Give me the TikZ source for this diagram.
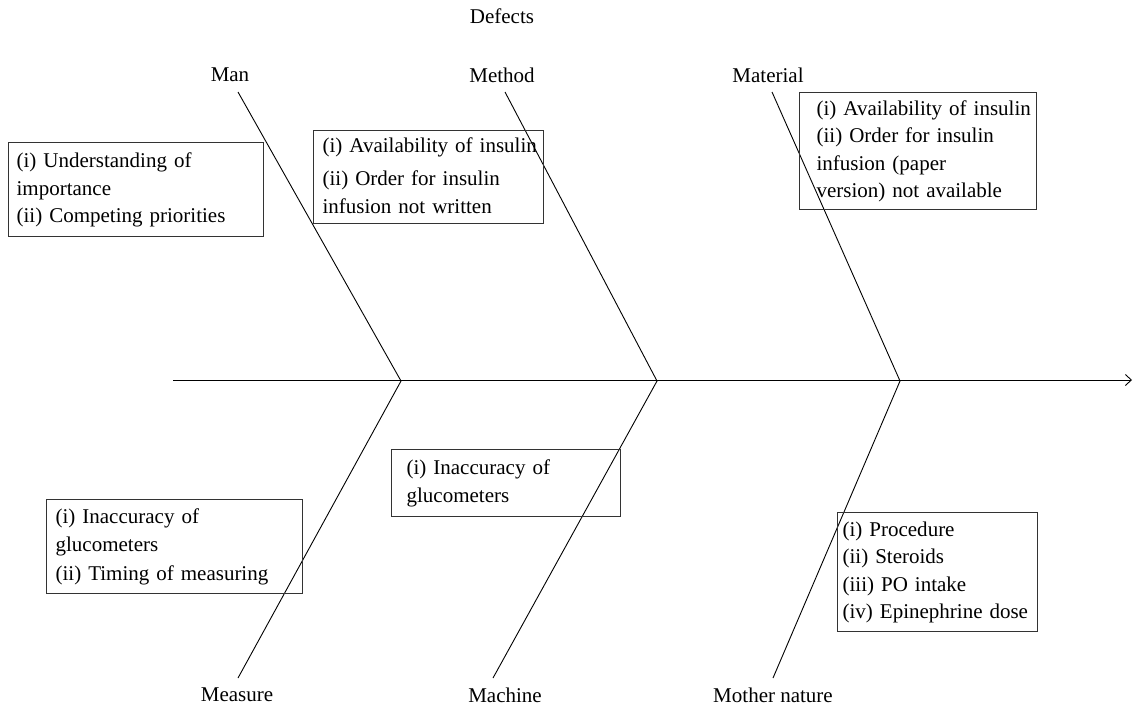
\documentclass[tikz,border=0pt]{standalone}
\usepackage{fontspec}
\setmainfont{Liberation Serif}
\usetikzlibrary{arrows.meta}

\begin{document}
\begin{tikzpicture}[x=0.5pt, y=-0.5pt,
    every node/.style={font=\fontsize{10.5}{13.75}\selectfont},
    box/.style={draw=black!80, line width=0.6pt, anchor=north west, align=left, inner ysep=1pt,
        execute at begin node=\strut, execute at end node=\strut},
    bone/.style={line width=0.45pt}
  ]
  \useasboundingbox (0,0) rectangle (1133,706);

  % Head and category labels
  \node (defects) at (502,16) {Defects};
  \node (man) at (230,75) {Man};
  \node (method) at (502,75) {Method};
  \node (material) at (768,75) {Material};
  \node (measure) at (237,695) {Measure};
  \node (machine) at (505,695) {Machine};
  \node (nature) at (773,695) {Mother nature};

  % Bone ends and junctions
  \coordinate (tman) at (238,92);
  \coordinate (tmethod) at (505,92);
  \coordinate (tmaterial) at (772,92);
  \coordinate (jman) at (401,381);
  \coordinate (jmethod) at (657,381);
  \coordinate (jmaterial) at (900,381);
  \coordinate (bmeasure) at (238,678);
  \coordinate (bmachine) at (493,678);
  \coordinate (bnature) at (773,678);
  \coordinate (tail) at (173,380);
  \coordinate (head) at (1132,380);

  % Spine and bones
  \draw[bone, -{Straight Barb[length=3pt, width=5.5pt]}] (tail) -- (head);
  \draw[bone] (tman) -- (jman) -- (bmeasure);
  \draw[bone] (tmethod) -- (jmethod) -- (bmachine);
  \draw[bone] (tmaterial) -- (jmaterial) -- (bnature);

  % Causes, upper side
  \node[box, text width=119.5pt, inner xsep=4pt, minimum height=47pt] (manbox) at (8,142)
    {(i) Understanding of\\importance\\(ii) Competing priorities};
  \node[box, text width=106pt, inner xsep=4.5pt, minimum height=46.5pt] (methodbox) at (313,130)
    {\mbox{(i) Availability of insulin}\\[3pt](ii) Order for insulin\\infusion not written};
  \node[box, text width=101.5pt, inner xsep=8.5pt, minimum height=58.5pt] (materialbox) at (799,92)
    {\mbox{(i) Availability of insulin}\\(ii) Order for insulin\\infusion (paper\\version) not available};

  % Causes, lower side
  \node[box, text width=119pt, inner xsep=4.5pt, minimum height=47pt] (measurebox) at (46,499)
    {(i) Inaccuracy of\\glucometers\\[1pt](ii) Timing of measuring};
  \node[box, text width=99.5pt, inner xsep=7.5pt, minimum height=33.5pt] (machinebox) at (391,449)
    {(i) Inaccuracy of\\glucometers};
  \node[box, text width=95pt, inner xsep=2.5pt, minimum height=59.5pt] (naturebox) at (837,512)
    {(i) Procedure\\(ii) Steroids\\(iii) PO intake\\(iv) Epinephrine dose};
\end{tikzpicture}
\end{document}
